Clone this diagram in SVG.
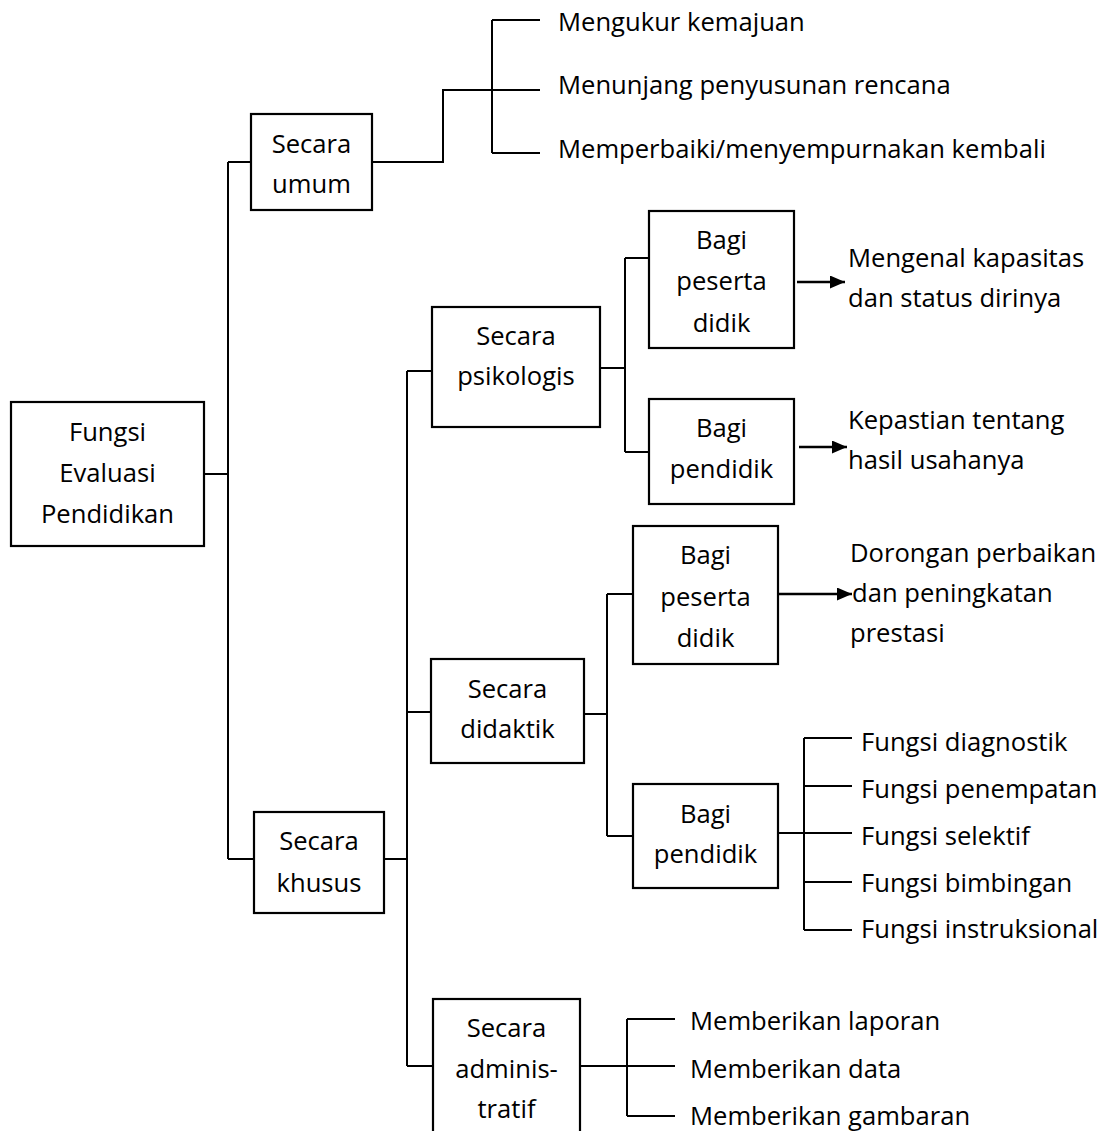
<svg xmlns="http://www.w3.org/2000/svg" width="1103" height="1131" viewBox="0 0 1103 1131">
  <style>
    .box { fill: #ffffff; stroke: #000000; stroke-width: 2.2; }
    .t { font-family: "Open Sans", "Liberation Sans", sans-serif; font-size: 25.6px; fill: #000000; }
    .c { text-anchor: middle; }
    .wire { fill: none; stroke: #000000; stroke-width: 2; }
    .arrow { fill: none; stroke: #000000; stroke-width: 2.6; marker-end: url(#head); }
  </style>
  <defs>
    <marker id="head" markerUnits="userSpaceOnUse" markerWidth="15" markerHeight="13" refX="15" refY="6.5" orient="auto">
      <path d="M0,0 L15,6.5 L0,13 z" fill="#000000"/>
    </marker>
  </defs>
  <rect width="1103" height="1131" fill="#ffffff"/>

  <!-- connectors -->
  <g id="connectors">
    <!-- root trunk -->
    <path class="wire" d="M204,474 H228 M228,162 V859 M228,162 H251 M228,859 H254"/>
    <!-- general branch -->
    <path class="wire" d="M372,162 H443 V90 H492 M492,20 V153 M492,20 H540 M492,90 H540 M492,153 H540"/>
    <!-- specific branch trunk -->
    <path class="wire" d="M384,859 H407 M407,371 V1066 M407,371 H432 M407,712 H431 M407,1066 H433"/>
    <!-- psychological -->
    <path class="wire" d="M600,368 H625 M625,258 V452 M625,258 H649 M625,452 H649"/>
    <!-- didactic -->
    <path class="wire" d="M584,714 H607 M607,594 V836 M607,594 H633 M607,836 H633"/>
    <path class="wire" d="M778,833 H804 M804,738 V930 M804,738 H852 M804,786 H852 M804,833 H852 M804,882 H852 M804,930 H852"/>
    <!-- administrative -->
    <path class="wire" d="M580,1066 H627 M627,1019 V1116 M627,1019 H675 M627,1066 H675 M627,1116 H675"/>
    <!-- arrows -->
    <line class="arrow" x1="797" y1="282" x2="845" y2="282"/>
    <line class="arrow" x1="799" y1="447" x2="847" y2="447"/>
    <line class="arrow" x1="778" y1="594" x2="852" y2="594"/>
  </g>

  <g id="root">
    <rect class="box" x="11" y="402" width="193" height="144"/>
    <text class="t c" x="107.5" y="441">Fungsi</text>
    <text class="t c" x="107.5" y="482">Evaluasi</text>
    <text class="t c" x="107.5" y="523">Pendidikan</text>
  </g>

  <g id="umum">
    <rect class="box" x="251" y="114" width="121" height="96"/>
    <text class="t c" x="311.5" y="153">Secara</text>
    <text class="t c" x="311.5" y="193">umum</text>
  </g>

  <g id="umum-items">
    <text class="t" x="558" y="31">Mengukur kemajuan</text>
    <text class="t" x="558" y="94">Menunjang penyusunan rencana</text>
    <text class="t" x="558" y="158">Memperbaiki/menyempurnakan kembali</text>
  </g>

  <g id="khusus">
    <rect class="box" x="254" y="812" width="130" height="101"/>
    <text class="t c" x="319" y="850">Secara</text>
    <text class="t c" x="319" y="892">khusus</text>
  </g>

  <g id="psikologis">
    <rect class="box" x="432" y="307" width="168" height="120"/>
    <text class="t c" x="516" y="345">Secara</text>
    <text class="t c" x="516" y="385">psikologis</text>
  </g>

  <g id="psi-peserta">
    <rect class="box" x="649" y="211" width="145" height="137"/>
    <text class="t c" x="721.5" y="249">Bagi</text>
    <text class="t c" x="721.5" y="290">peserta</text>
    <text class="t c" x="721.5" y="332">didik</text>
  </g>

  <g id="psi-pendidik">
    <rect class="box" x="649" y="399" width="145" height="105"/>
    <text class="t c" x="721.5" y="437">Bagi</text>
    <text class="t c" x="721.5" y="478">pendidik</text>
  </g>

  <g id="psi-peserta-out">
    <text class="t" x="848" y="267">Mengenal kapasitas</text>
    <text class="t" x="848" y="307">dan status dirinya</text>
  </g>

  <g id="psi-pendidik-out">
    <text class="t" x="848" y="429">Kepastian tentang</text>
    <text class="t" x="848" y="469">hasil usahanya</text>
  </g>

  <g id="didaktik">
    <rect class="box" x="431" y="659" width="153" height="104"/>
    <text class="t c" x="507.5" y="698">Secara</text>
    <text class="t c" x="507.5" y="738">didaktik</text>
  </g>

  <g id="did-peserta">
    <rect class="box" x="633" y="526" width="145" height="138"/>
    <text class="t c" x="705.5" y="564">Bagi</text>
    <text class="t c" x="705.5" y="606">peserta</text>
    <text class="t c" x="705.5" y="647">didik</text>
  </g>

  <g id="did-peserta-out">
    <text class="t" x="850" y="562">Dorongan perbaikan</text>
    <text class="t" x="852" y="602">dan peningkatan</text>
    <text class="t" x="850" y="642">prestasi</text>
  </g>

  <g id="did-pendidik">
    <rect class="box" x="633" y="784" width="145" height="104"/>
    <text class="t c" x="705.5" y="823">Bagi</text>
    <text class="t c" x="705.5" y="863">pendidik</text>
  </g>

  <g id="did-pendidik-items">
    <text class="t" x="861" y="751">Fungsi diagnostik</text>
    <text class="t" x="861" y="798">Fungsi penempatan</text>
    <text class="t" x="861" y="845">Fungsi selektif</text>
    <text class="t" x="861" y="892">Fungsi bimbingan</text>
    <text class="t" x="861" y="938">Fungsi instruksional</text>
  </g>

  <g id="administratif">
    <rect class="box" x="433" y="999" width="147" height="150"/>
    <text class="t c" x="506.5" y="1037">Secara</text>
    <text class="t c" x="506.5" y="1078">adminis-</text>
    <text class="t c" x="506.5" y="1118">tratif</text>
  </g>

  <g id="adm-items">
    <text class="t" x="690" y="1030">Memberikan laporan</text>
    <text class="t" x="690" y="1078">Memberikan data</text>
    <text class="t" x="690" y="1125">Memberikan gambaran</text>
  </g>
</svg>
